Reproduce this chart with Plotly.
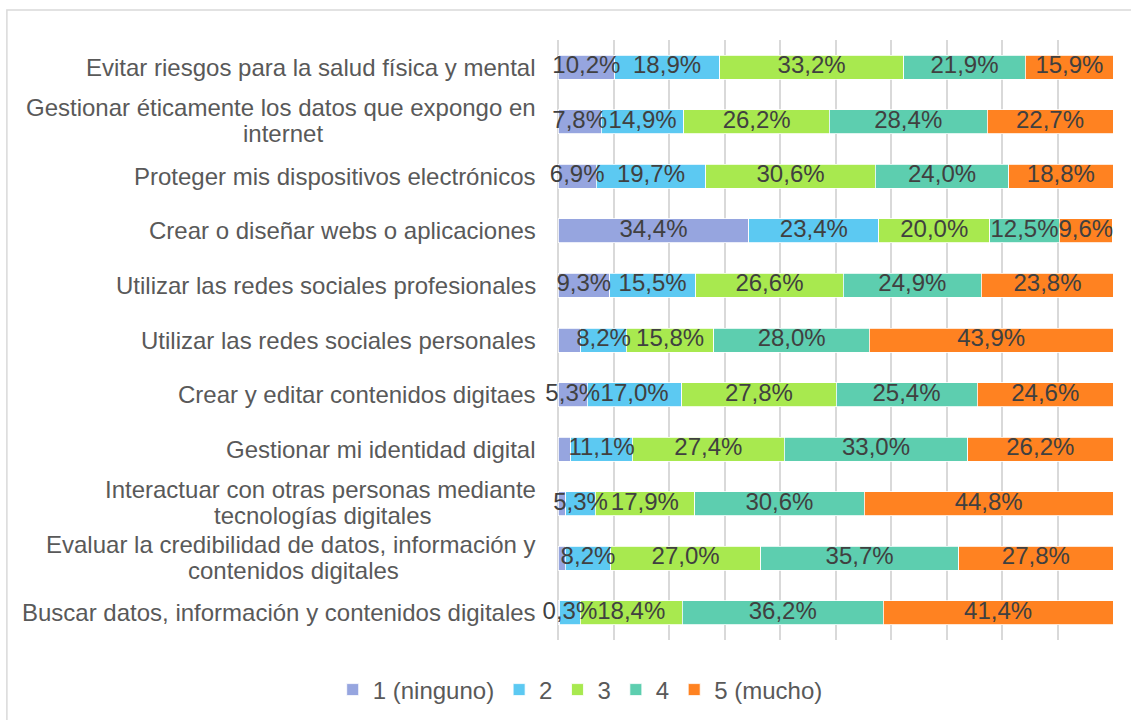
import numpy as np
import plotly.graph_objects as go

categories = [
    "Evitar riesgos para la salud física y mental",
    "Gestionar éticamente los datos que expongo en<br>internet",
    "Proteger mis dispositivos electrónicos",
    "Crear o diseñar webs o aplicaciones",
    "Utilizar las redes sociales profesionales",
    "Utilizar las redes sociales personales",
    "Crear y editar contenidos digitaes",
    "Gestionar mi identidad digital",
    "Interactuar con otras personas mediante<br>tecnologías digitales",
    "Evaluar la credibilidad de datos, información y<br>contenidos digitales",
    "Buscar datos, información y contenidos digitales",
]

series_names = ["1 (ninguno)", "2", "3", "4", "5 (mucho)"]

s1 = [10.2, 7.8, 6.9, 34.4, 9.3, 4.1, 5.3, 2.3, 1.4, 1.3, 0.3]
s2 = [18.9, 14.9, 19.7, 23.4, 15.5, 8.2, 17.0, 11.1, 5.3, 8.2, 3.7]
s3 = [33.2, 26.2, 30.6, 20.0, 26.6, 15.8, 27.8, 27.4, 17.9, 27.0, 18.4]
s4 = [21.9, 28.4, 24.0, 12.5, 24.9, 28.0, 25.4, 33.0, 30.6, 35.7, 36.2]
s5 = [15.9, 22.7, 18.8, 9.6, 23.8, 43.9, 24.6, 26.2, 44.8, 27.8, 41.4]

labels1 = ["10,2%", "7,8%", "6,9%", "34,4%", "9,3%", "", "5,3%", "", "", "", ""]
labels2 = ["18,9%", "14,9%", "19,7%", "23,4%", "15,5%", "8,2%", "17,0%", "11,1%", "5,3%", "8,2%", "0,3%"]
labels3 = ["33,2%", "26,2%", "30,6%", "20,0%", "26,6%", "15,8%", "27,8%", "27,4%", "17,9%", "27,0%", "18,4%"]
labels4 = ["21,9%", "28,4%", "24,0%", "12,5%", "24,9%", "28,0%", "25,4%", "33,0%", "30,6%", "35,7%", "36,2%"]
labels5 = ["15,9%", "22,7%", "18,8%", "9,6%", "23,8%", "43,9%", "24,6%", "26,2%", "44,8%", "27,8%", "41,4%"]

colors = ["#96A5DF", "#5CC9F2", "#A8E94F", "#5DCEAF", "#FF8221"]

FONT = "Liberation Sans, Arial, sans-serif"
FS = 24

# Arial / Liberation Sans advance widths (per 1000 em) for measuring label lines
_W = {" ": 278, ",": 278, "a": 556, "b": 556, "c": 500, "d": 556, "e": 556, "f": 278,
      "g": 556, "h": 556, "i": 222, "j": 222, "k": 500, "l": 222, "m": 833, "n": 556,
      "o": 556, "p": 556, "q": 556, "r": 333, "s": 500, "t": 278, "u": 556, "v": 500,
      "w": 722, "x": 500, "y": 500, "z": 500, "á": 556, "é": 556, "í": 278, "ó": 556,
      "ñ": 556, "G": 778, "I": 278, "E": 667}


def text_width(s, size):
    return sum(_W.get(ch, 556) for ch in s) * size / 1000.0


all_series = [s1, s2, s3, s4, s5]
all_labels = [labels1, labels2, labels3, labels4, labels5]

fig = go.Figure()
for name, vals, col in zip(series_names, all_series, colors):
    fig.add_trace(go.Bar(
        name=name, y=categories, x=vals, orientation="h",
        marker=dict(color=col, line=dict(color="white", width=0.8)),
        hoverinfo="skip",
    ))

# data labels on top of all bars, centred on each segment
arr = np.array(all_series)
ends = np.cumsum(arr, axis=0)
starts = ends - arr
mids = (starts + ends) / 2.0
for k, labs in enumerate(all_labels):
    fig.add_trace(go.Scatter(
        x=mids[k], y=categories, mode="text", text=labs,
        textposition="middle center", cliponaxis=False, showlegend=False,
        textfont=dict(family=FONT, size=FS, color="#404040"), hoverinfo="skip",
    ))

annotations = []
GAP = 20
for c in categories:
    base = dict(x=0, xref="paper", y=c, yref="y", yanchor="middle", showarrow=False,
                font=dict(family=FONT, size=FS, color="#595959"))
    if "<br>" in c:
        l1, l2 = c.split("<br>")
        w1 = text_width(l1, FS)
        annotations.append(dict(base, text=l1, xanchor="right", xshift=-GAP, yshift=14))
        annotations.append(dict(base, text=l2, xanchor="center", xshift=-GAP - w1 / 2, yshift=-12))
    else:
        annotations.append(dict(base, text=c, xanchor="right", xshift=-GAP))

n = len(categories)
fig.update_layout(
    width=1131, height=720,
    margin=dict(l=558, r=18, t=40, b=80, autoexpand=False),
    barmode="stack", bargap=0.56,
    plot_bgcolor="white", paper_bgcolor="white",
    font=dict(family=FONT, size=FS, color="#595959"),
    xaxis=dict(range=[0, 100], dtick=10, showticklabels=False, ticks="",
               showgrid=True, gridcolor="#D9D9D9", gridwidth=1.5,
               zeroline=True, zerolinecolor="#D9D9D9", zerolinewidth=1.5,
               showline=False, fixedrange=True),
    yaxis=dict(type="category", categoryorder="array", categoryarray=categories,
               range=[n - 0.5, -0.5], autorange=False, showticklabels=False, ticks="",
               showgrid=False, zeroline=False, showline=False),
    legend=dict(orientation="h", x=0.04, xanchor="center",
                yref="container", y=30 / 720, yanchor="middle",
                font=dict(family=FONT, size=FS, color="#595959"),
                itemwidth=30, traceorder="normal"),
    annotations=annotations,
    shapes=[dict(type="rect", xref="paper", yref="paper",
                 x0=-0.993, x1=1.1, y0=-0.3, y1=1.05,
                 line=dict(color="#D9D9D9", width=1.5), fillcolor="rgba(0,0,0,0)", layer="below")],
)

fig.write_html("out.html", config={"displayModeBar": False},
               post_script="document.body.style.margin='0';")
